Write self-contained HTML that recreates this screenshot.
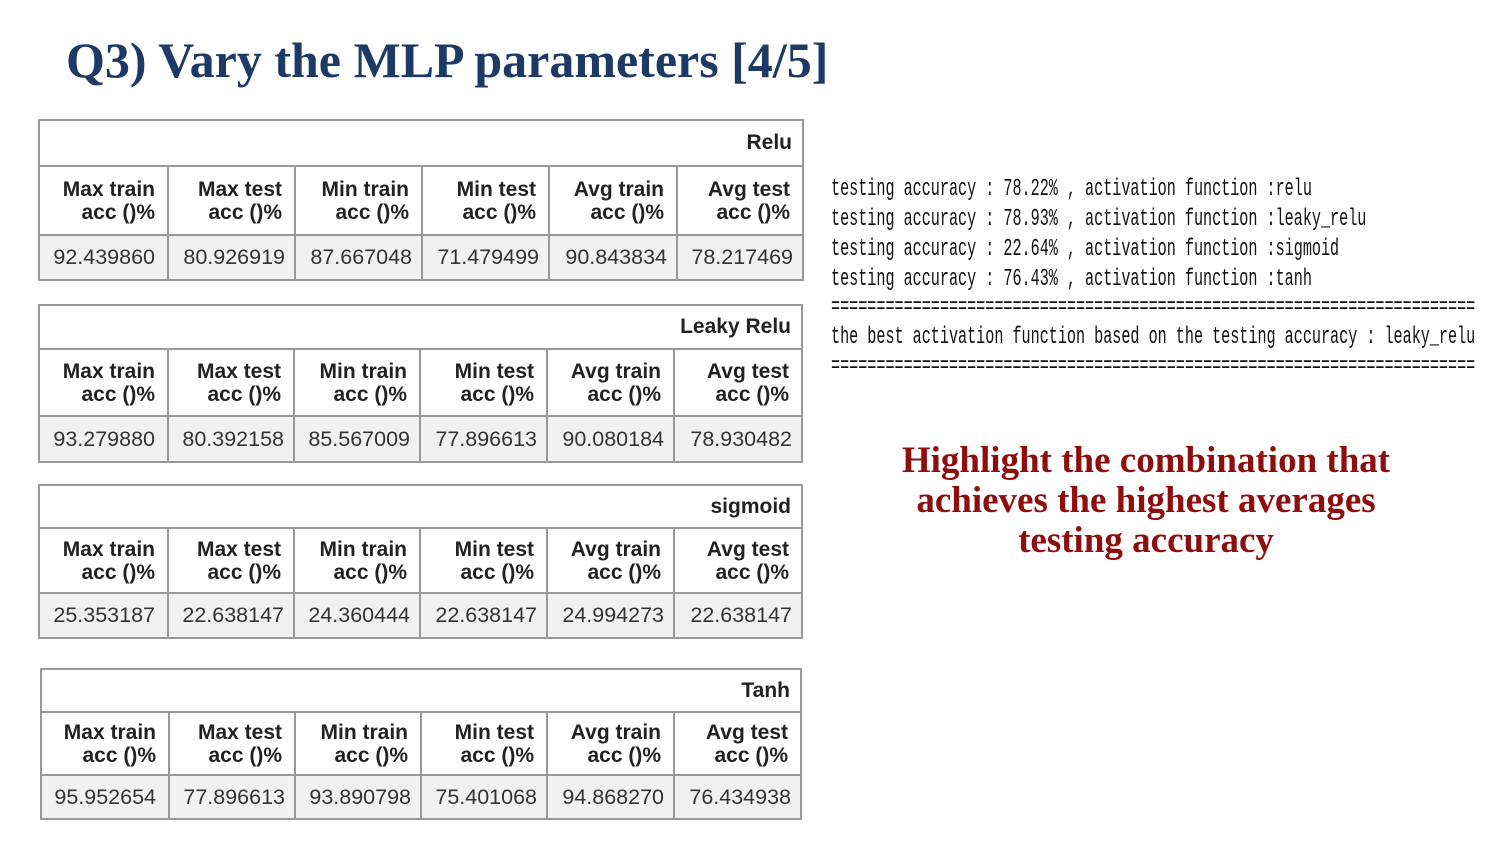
<!DOCTYPE html>
<html><head><meta charset="utf-8"><style>
body{margin:0;width:1500px;height:844px;background:#fff;position:relative;overflow:hidden;font-family:"Liberation Sans",sans-serif}
.title{position:absolute;left:66px;top:31px;font:bold 50px "Liberation Serif",serif;color:#1d3a66;white-space:nowrap}
.tbl{position:absolute;border-top:2px solid #999;border-left:2px solid #999}
.cell{position:absolute;box-sizing:border-box;border-right:2px solid #999;border-bottom:2px solid #999;text-align:right;padding-right:10px;color:#222}
.hdr{font-weight:bold;font-size:21px;line-height:23px}
.dat{background:#f1f1f1;font-size:21.5px;color:#333}
.con{position:absolute;left:831px;font:24px "Liberation Mono",monospace;transform-origin:0 0;transform:scaleX(0.63);white-space:pre;color:#111}
.red{position:absolute;left:800px;width:692px;text-align:center;font:bold 37px "Liberation Serif",serif;color:#8e0d0d;line-height:40px;top:441px}
</style></head><body>
<div class="title">Q3) Vary the MLP parameters [4/5]</div>
<div id="tables"></div>
<div class="con" style="top:176px">testing accuracy : 78.22% , activation function :relu</div>
<div class="con" style="top:206px">testing accuracy : 78.93% , activation function :leaky_relu</div>
<div class="con" style="top:236px">testing accuracy : 22.64% , activation function :sigmoid</div>
<div class="con" style="top:266px">testing accuracy : 76.43% , activation function :tanh</div>
<div class="con" style="top:294px">=======================================================================</div>
<div class="con" style="top:324px">the best activation function based on the testing accuracy : leaky_relu</div>
<div class="con" style="top:353px">=======================================================================</div>
<div class="red">Highlight the combination that<br>achieves the highest averages<br>testing accuracy</div>
<script>
const names=["Relu","Leaky Relu","sigmoid","Tanh"];
const headers=["Max train","Max test","Min train","Min test","Avg train","Avg test"];
const reluVals=["92.439860","80.926919","87.667048","71.479499","90.843834","78.217469"];
const leakyVals=["93.279880","80.392158","85.567009","77.896613","90.080184","78.930482"];
const sigmoidVals=["25.353187","22.638147","24.360444","22.638147","24.994273","22.638147"];
const tanhVals=["95.952654","77.896613","93.890798","75.401068","94.868270","76.434938"];
const allVals=[reluVals,leakyVals,sigmoidVals,tanhVals];
const layouts=[{x:38,y:119,h:[46,69,45],c:[38,167,294,421,548,676,802]},
{x:38,y:304,h:[44,67,46],c:[38,167,293,419,546,673,801]},
{x:38,y:484,h:[43,65,45],c:[38,167,293,419,546,673,801]},
{x:40,y:668,h:[43,63,44],c:[40,168,294,420,546,673,800]}];
const root=document.getElementById('tables');
layouts.forEach((L,t)=>{
 const tb=document.createElement('div');tb.className='tbl';
 
 
 const W=L.c[6]-L.c[0],H=L.h[0]+L.h[1]+L.h[2];
 tb.style.cssText=`left:${L.c[0]}px;top:${L.y}px;width:${W}px;height:${H}px`;
 root.appendChild(tb);
 const ti=document.createElement('div');ti.className='cell hdr';
 
 
 ti.style.cssText=`left:0;top:0;width:${W}px;height:${L.h[0]}px;line-height:${L.h[0]-2}px`;
 ti.textContent=names[t];tb.appendChild(ti);
 for(let i=0;i<6;i++){
  const x=L.c[i]-L.c[0],w=L.c[i+1]-L.c[i];
  const h=document.createElement('div');h.className='cell hdr';
  
  
  h.style.cssText=`left:${x}px;top:${L.h[0]}px;width:${w}px;height:${L.h[1]}px;padding-top:${(L.h[1]-48)/2}px;padding-right:12px`;
  h.innerHTML=headers[i]+'<br>acc ()%';tb.appendChild(h);
  const d=document.createElement('div');d.className='cell dat';
  
  
  d.style.cssText=`left:${x}px;top:${L.h[0]+L.h[1]}px;width:${w}px;height:${L.h[2]}px;line-height:${L.h[2]-2}px;padding-right:${i==0?12:9}px`;
  d.textContent=allVals[t][i];tb.appendChild(d);
 }
});
</script>
</body></html>
